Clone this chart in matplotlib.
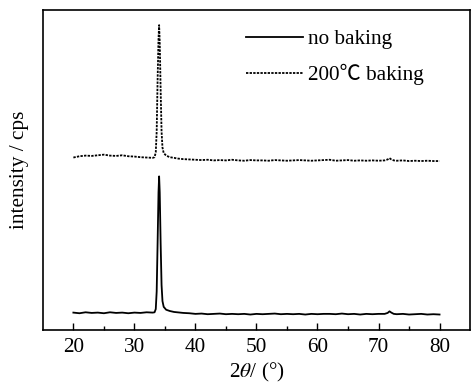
import matplotlib
matplotlib.use("Agg")
import matplotlib.pyplot as plt

# === Daten
two_theta = [20, 21, 22, 23, 24, 25, 26, 27, 28, 29, 30, 31, 32, 33,
             33.3, 33.5, 33.65, 33.8, 33.95, 34.05, 34.15, 34.3, 34.45, 34.6, 34.8, 35.2, 35.8, 36.5,
             37, 38, 39, 40, 41, 42, 43, 44, 45, 46, 47, 48, 49, 50, 51, 52, 53, 54,
             55, 56, 57, 58, 59, 60, 61, 62, 63, 64, 65, 66, 67, 68, 69, 70, 71,
             71.5, 71.8, 72.1, 72.5,
             73, 74, 75, 76, 77, 78, 79, 80]

no_baking = [5.4, 5.2, 5.5, 5.3, 5.4, 5.2, 5.5, 5.3, 5.4, 5.2, 5.4, 5.3, 5.5, 5.4,
             5.5, 6.5, 12, 27, 43, 48, 43, 27, 14, 9.0, 7.2, 6.3, 5.9, 5.6,
             5.5, 5.3, 5.2, 5.0, 5.1, 4.9, 5.0, 5.1, 4.9, 5.0, 4.9, 5.0, 4.8, 5.0, 4.9, 5.0, 5.1, 4.9,
             5.0, 4.9, 5.0, 4.8, 5.0, 4.9, 5.0, 5.0, 4.9, 5.1, 4.9, 5.0, 4.8, 5.0, 4.9, 5.0, 5.0,
             5.3, 5.8, 5.4, 5.0,
             4.9, 5.0, 4.8, 4.9, 5.0, 4.8, 4.9, 4.8]

baked_200 = [53.9, 54.3, 54.5, 54.4, 54.6, 54.8, 54.5, 54.4, 54.6, 54.3, 54.2, 54.0, 53.9, 53.8,
             54.0, 55.5, 62, 78, 91, 95.3, 90, 75, 62, 57, 55.3, 54.5, 54.0, 53.8,
             53.6, 53.4, 53.3, 53.2, 53.1, 53.2, 53.0, 53.1, 53.0, 53.2, 53.0, 52.9, 53.1, 53.0, 53.0, 52.9, 53.1, 53.0,
             52.9, 53.0, 53.1, 53.0, 52.9, 53.0, 53.1, 53.2, 52.9, 53.0, 53.1, 52.9, 53.0, 52.9, 53.0, 52.9, 53.0,
             53.3, 53.7, 53.3, 53.0,
             52.9, 53.0, 52.8, 52.9, 52.8, 52.9, 52.8, 52.8]

x_ticks = [20, 30, 40, 50, 60, 70, 80]

# === Schrift
plt.rcParams['font.family'] = ['Liberation Serif', 'Noto Sans CJK SC', 'DejaVu Serif']
plt.rcParams['mathtext.fontset'] = 'stix'
FS = 15.3

# === Plot
fig = plt.figure(figsize=(4.71, 3.89), dpi=100)
ax = fig.add_axes([0.091, 0.152, 0.907, 0.822])

ax.plot(two_theta, no_baking, color='black', lw=1.3, label='no baking')
ax.plot(two_theta, baked_200, color='black', lw=1.3, ls=(0, (1.3, 0.7)), label='200℃ baking')

ax.set_xlim(15, 85)
ax.set_ylim(0, 100)
ax.set_xticks(x_ticks)
ax.set_xticks([25, 35, 45, 55, 65, 75], minor=True)
ax.set_yticks([])
ax.tick_params(axis='x', which='major', direction='in', length=5, width=1, labelsize=FS, pad=6)
ax.tick_params(axis='x', which='minor', direction='in', length=3, width=1)
for s in ax.spines.values():
    s.set_linewidth(1.2)

ax.set_xlabel(r'2$\it{\theta}$/ (°)', fontsize=FS, labelpad=3)
ax.set_ylabel('intensity / cps', fontsize=FS, labelpad=10)

ax.legend(loc='upper left', bbox_to_anchor=(0.455, 0.966), frameon=False, fontsize=FS,
          handlelength=2.7, handletextpad=0.25, labelspacing=0.7, borderaxespad=0)

plt.savefig("out.png", dpi=100)
plt.close()
